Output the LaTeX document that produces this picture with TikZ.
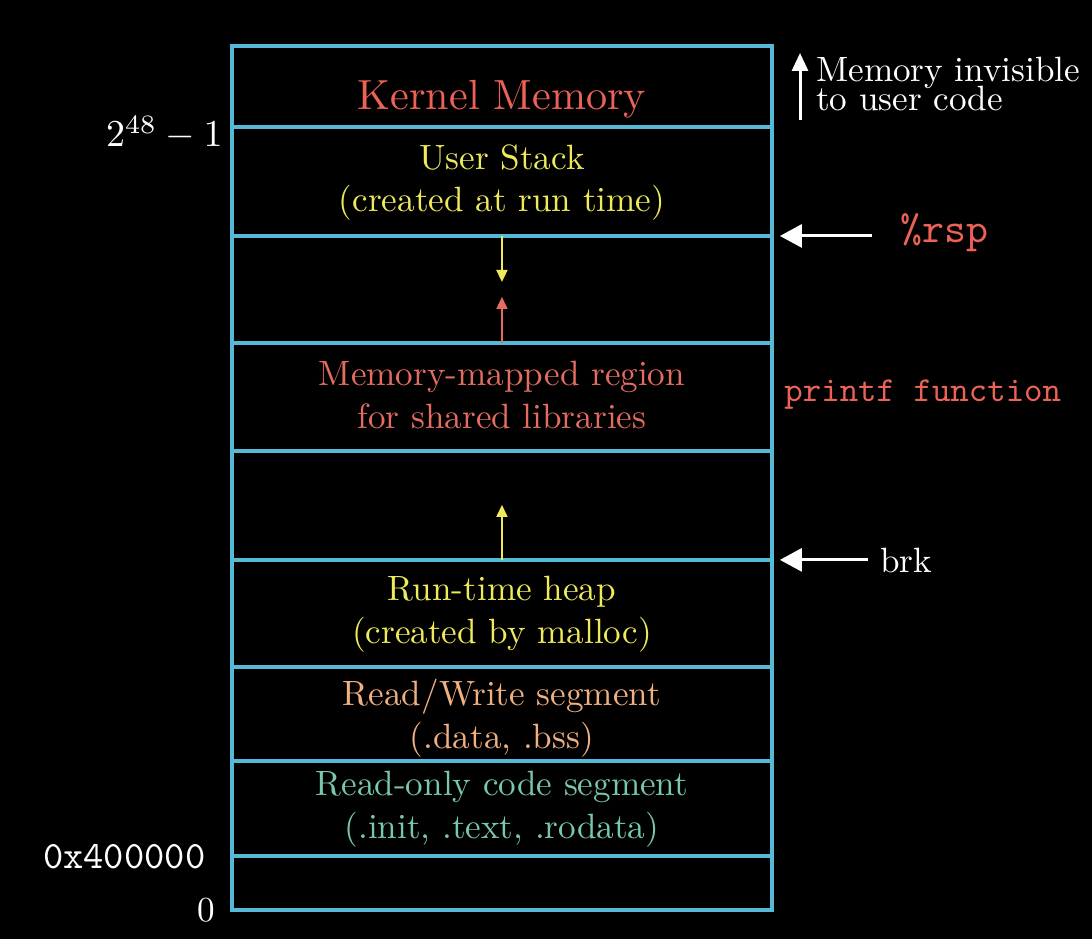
\documentclass[tikz,border=0pt]{standalone}
\usepackage{tikz}
\usetikzlibrary{positioning,arrows.meta,calc}

\definecolor{segblue}{RGB}{86,186,214}
\definecolor{kernred}{RGB}{236,98,86}
\definecolor{mapred}{RGB}{228,108,96}
\definecolor{stackyellow}{RGB}{238,234,90}
\definecolor{rworange}{RGB}{240,176,130}
\definecolor{roteal}{RGB}{120,200,172}

\tikzset{
  seg/.style={draw=segblue, line width=2.2pt, outer sep=0pt, inner sep=0pt,
    minimum width=10.8cm},
  segtext/.style={align=center, font=\fontsize{10}{12.2}\selectfont, scale=2, transform shape},
  lbl/.style={text=white, font=\fontsize{10}{12}\selectfont, scale=2, transform shape},
  wharrow/.style={draw=white, line width=1.7pt, -{Triangle[length=4.4mm, width=4.6mm]}},
  growarrow/.style={line width=1pt, -{Triangle[length=2.4mm, width=2.2mm]}}
}

\begin{document}
\begin{tikzpicture}[x=0.02cm, y=-0.02cm]
% background
\fill[black] (0,0) rectangle (1092,939);
% segments, top to bottom
\node[seg, anchor=north west, minimum height=1.62cm] (kernel) at (232,46) {};
\node[seg, below=0pt of kernel, minimum height=2.18cm] (stack) {};
\node[seg, below=0pt of stack, minimum height=2.14cm] (gapA) {};
\node[seg, below=0pt of gapA, minimum height=2.16cm] (mmap) {};
\node[seg, below=0pt of mmap, minimum height=2.18cm] (gapB) {};
\node[seg, below=0pt of gapB, minimum height=2.14cm] (heap) {};
\node[seg, below=0pt of heap, minimum height=1.88cm] (rw) {};
\node[seg, below=0pt of rw, minimum height=1.90cm] (ro) {};
\node[seg, below=0pt of ro, minimum height=1.08cm] (low) {};
% segment texts
\node[segtext, anchor=base, scale=1.2, text=kernred] (kerneltext) at (502,110) {Kernel Memory};
\node[segtext, text=stackyellow] (stacktext) at ($(stack.center)+(0,1)$) {User Stack\\(created at run time)};
\node[segtext, text=mapred] (mmaptext) at ($(mmap.center)+(0,-2)$) {Memory-mapped region\\for shared libraries};
\node[segtext, text=stackyellow] (heaptext) at ($(heap.center)+(0,1)$) {Run-time heap\\(created by malloc)};
\node[segtext, text=rworange] (rwtext) at ($(rw.center)+(0,4)$) {Read/Write segment\\(.data, .bss)};
\node[segtext, text=roteal] (rotext) at ($(ro.center)+(0,1)$) {Read-only code segment\\(.init, .text, .rodata)};
% growth arrows
\coordinate (stackend) at ($(gapA.north)+(0,46)$);
\coordinate (mapend) at ($(mmap.north)+(0,-46)$);
\coordinate (heapend) at ($(heap.north)+(0,-55)$);
\draw[growarrow, stackyellow] (gapA.north) -- (stackend);
\draw[growarrow, mapred] (mmap.north) -- (mapend);
\draw[growarrow, stackyellow] (heap.north) -- (heapend);
% addresses
\node[lbl, anchor=east, scale=1.08] (topaddr) at (236,133) {$2^{48}-1$};
\node[lbl, anchor=east, scale=1.1, font=\fontsize{10}{12}\selectfont\ttfamily] (codeaddr) at (219,857) {0x400000};
\node[lbl, anchor=east] (zeroaddr) at (227,910) {0};
% right side
\coordinate (invbot) at (800,120);
\coordinate (invtop) at (800,53);
\draw[draw=white, line width=1.7pt, -{Triangle[length=3.6mm, width=3.2mm]}] (invbot) -- (invtop);
\node[lbl, anchor=west, align=left, inner sep=1pt] (invis) at (812,84) {Memory invisible\\[-3.6pt]to user code};
\node[lbl, anchor=west, scale=1.19, text=kernred, font=\fontsize{10}{12}\selectfont\ttfamily] (rsp) at (886,233) {\%rsp};
\draw[wharrow, shorten <=0.28cm, shorten >=0.16cm] (stack.south east -| rsp.west) -- (stack.south east);
\node[lbl, anchor=west, text=kernred, font=\fontsize{10}{12}\selectfont\ttfamily] (printf) at (772,395) {printf function};
\node[lbl, anchor=west] (brk) at (868,560) {brk};
\draw[wharrow, shorten >=0.16cm] (heap.north east -| brk.west) -- (heap.north east);
\end{tikzpicture}
\end{document}
